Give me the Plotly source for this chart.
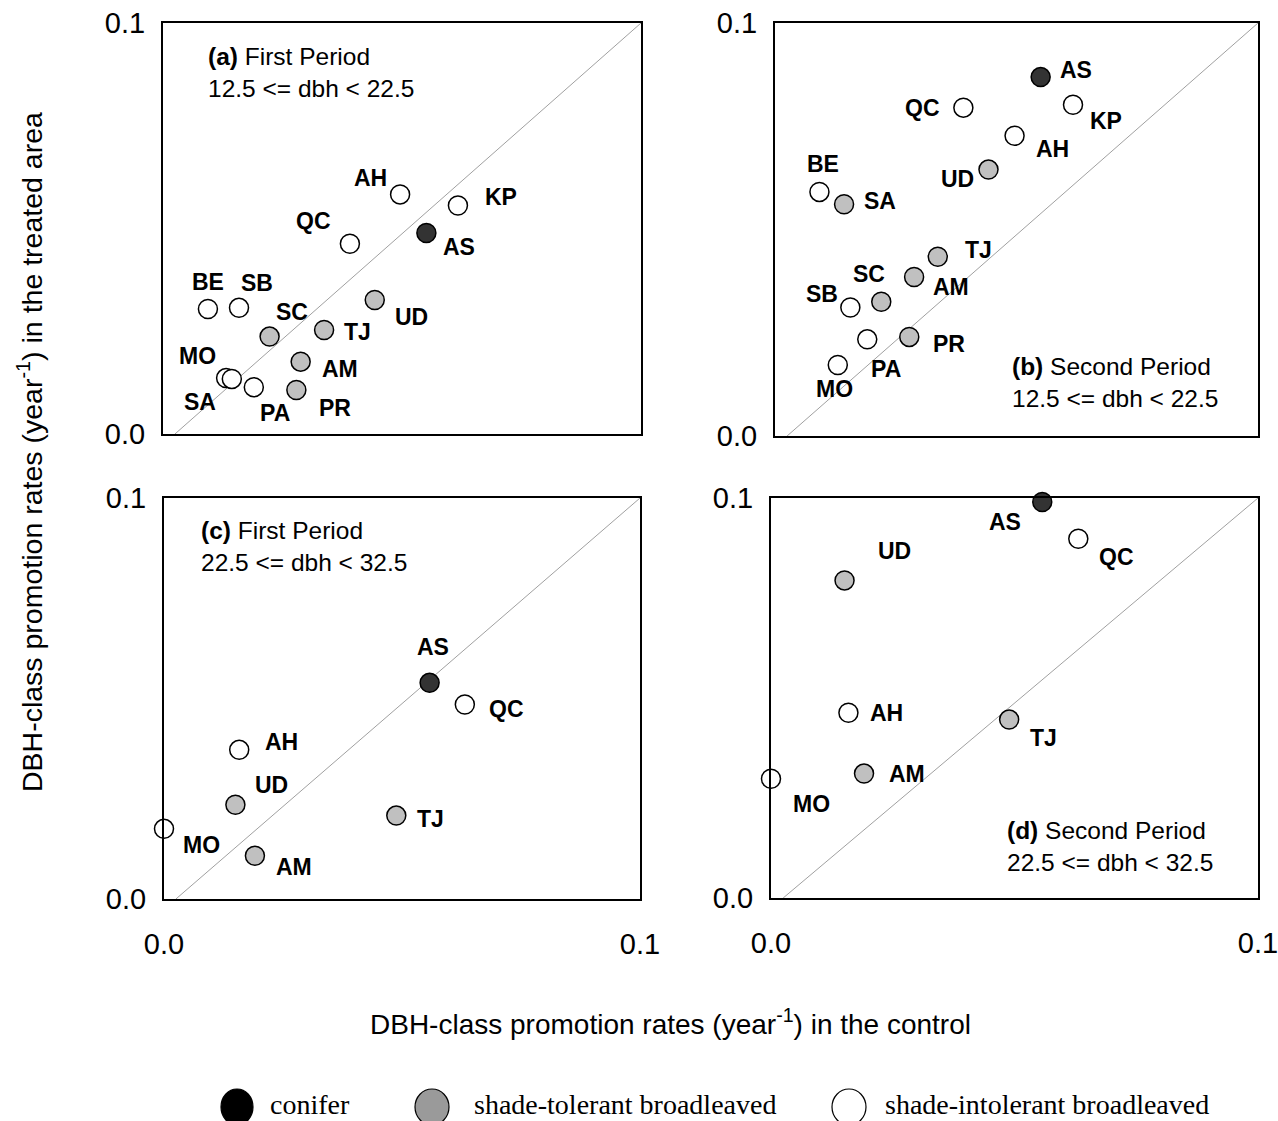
import plotly.graph_objects as go

# ---------------- data ----------------
# kind: C = conifer, T = shade-tolerant broadleaved, I = shade-intolerant broadleaved
species_a = ["AH", "KP", "AS", "QC", "BE", "SB", "SC", "TJ", "UD", "AM", "PR", "MO", "SA", "PA"]
x_a = [0.0496, 0.0617, 0.0551, 0.0391, 0.0094, 0.0159, 0.0223, 0.0337, 0.0443, 0.0288, 0.0279, 0.0132, 0.0144, 0.0190]
y_a = [0.0583, 0.0556, 0.0489, 0.0463, 0.0304, 0.0307, 0.0237, 0.0253, 0.0326, 0.0176, 0.0107, 0.0136, 0.0134, 0.0114]
kind_a = ["I", "I", "C", "I", "I", "I", "T", "T", "T", "T", "T", "I", "I", "I"]

species_b = ["AS", "QC", "KP", "AH", "UD", "BE", "SA", "TJ", "AM", "SC", "SB", "PA", "PR", "MO"]
x_b = [0.0550, 0.0390, 0.0617, 0.0496, 0.0442, 0.0092, 0.0143, 0.0337, 0.0288, 0.0220, 0.0156, 0.0191, 0.0278, 0.0130]
y_b = [0.0869, 0.0795, 0.0802, 0.0727, 0.0645, 0.0591, 0.0561, 0.0434, 0.0385, 0.0325, 0.0311, 0.0234, 0.0240, 0.0172]
kind_b = ["C", "I", "I", "I", "T", "I", "T", "T", "T", "T", "I", "I", "T", "I"]

species_c = ["AS", "QC", "AH", "UD", "TJ", "MO", "AM"]
x_c = [0.0558, 0.0632, 0.0158, 0.0150, 0.0488, 0.0, 0.0191]
y_c = [0.0539, 0.0485, 0.0372, 0.0235, 0.0208, 0.0175, 0.0108]
kind_c = ["C", "I", "I", "T", "T", "I", "T"]

species_d = ["AS", "QC", "UD", "AH", "TJ", "AM", "MO"]
x_d = [0.0557, 0.0631, 0.0151, 0.0159, 0.0489, 0.0191, 0.0]
y_d = [0.0990, 0.0898, 0.0794, 0.0463, 0.0446, 0.0311, 0.0298]
kind_d = ["C", "I", "T", "I", "T", "T", "I"]

diag_x = [0.0025, 0.1]
diag_y = [0.0, 0.1]

tick_vals = [0.0, 0.1]
tick_text = ["0.0", "0.1"]

panel_titles = [
    "<b>(a)</b> First Period<br>12.5 &lt;= dbh &lt; 22.5",
    "<b>(b)</b> Second Period<br>12.5 &lt;= dbh &lt; 22.5",
    "<b>(c)</b> First Period<br>22.5 &lt;= dbh &lt; 32.5",
    "<b>(d)</b> Second Period<br>22.5 &lt;= dbh &lt; 32.5",
]

legend_names = ["conifer", "shade-tolerant broadleaved", "shade-intolerant broadleaved"]

# ---------------- styles / layout ----------------
W, H = 1278, 1121
SANS = "Liberation Sans, Arial, sans-serif"
SERIF = "Liberation Serif, Times New Roman, serif"
fill = {"C": "#333333", "T": "#c0c0c0", "I": "#ffffff"}
legend_fill = ["#000000", "#9a9a9a", "#ffffff"]

# label offsets (px, dx right, dy down) per panel
off_a = [(-30, -16), (43, -8), (33, 14), (-36, -23), (0, -27), (18, -25), (22, -25), (33, 2),
         (37, 17), (39, 7), (39, 18), (-29, -22), (-32, 23), (21, 26)]
off_b = [(35, -7), (-41, 0), (33, 16), (38, 13), (-31, 9), (4, -28), (36, -3), (41, -7),
         (37, 10), (-12, -28), (-28, -14), (19, 30), (40, 7), (-3, 24)]
off_c = [(3, -36), (42, 4), (42, -8), (36, -20), (34, 3), (37, 16), (39, 11)]
off_d = [(-37, 20), (38, 18), (50, -29), (38, 0), (34, 18), (43, 0), (40, 25)]

# panel boxes in pixels: (left, right, top, bottom)
boxes = [(163, 641, 23, 434), (775, 1258, 23, 436), (164, 640, 498, 899), (771, 1258, 498, 898)]
# title positions (x domain frac of left edge, y domain frac of center)
title_pos = [(0.090, 0.879), (0.487, 0.129), (0.074, 0.879), (0.481, 0.129)]

panels = [
    (species_a, x_a, y_a, kind_a, off_a),
    (species_b, x_b, y_b, kind_b, off_b),
    (species_c, x_c, y_c, kind_c, off_c),
    (species_d, x_d, y_d, kind_d, off_d),
]

fig = go.Figure()
annotations = []
layout_axes = {}

for i, (sp, xs, ys, kinds, offs) in enumerate(panels):
    n = i + 1
    xa = "x" if n == 1 else f"x{n}"
    ya = "y" if n == 1 else f"y{n}"
    fig.add_trace(go.Scatter(x=diag_x, y=diag_y, mode="lines", xaxis=xa, yaxis=ya,
                             line=dict(color="#a0a0a0", width=1), showlegend=False,
                             hoverinfo="skip"))
    fig.add_trace(go.Scatter(x=xs, y=ys, mode="markers", xaxis=xa, yaxis=ya,
                             marker=dict(size=19, color=[fill[k] for k in kinds],
                                         line=dict(color="black", width=1.5)),
                             cliponaxis=False, showlegend=False, text=sp))
    for s, xv, yv, (dx, dy) in zip(sp, xs, ys, offs):
        annotations.append(dict(x=xv, y=yv, xref=xa, yref=ya, text=f"<b>{s}</b>",
                                showarrow=False, xshift=dx, yshift=-dy,
                                xanchor="center", yanchor="middle",
                                font=dict(family=SANS, size=23, color="black")))
    tx, ty = title_pos[i]
    annotations.append(dict(x=tx, y=ty, xref=f"{xa} domain", yref=f"{ya} domain",
                            text=panel_titles[i], showarrow=False, align="left",
                            xanchor="left", yanchor="middle",
                            font=dict(family=SANS, size=24.5, color="black")))
    l, r, t, b = boxes[i]
    xkey = "xaxis" if n == 1 else f"xaxis{n}"
    ykey = "yaxis" if n == 1 else f"yaxis{n}"
    layout_axes[xkey] = dict(domain=[l / W, r / W], range=[0, 0.1], anchor=ya,
                             showline=True, mirror=True, linecolor="black", linewidth=2,
                             showgrid=False, zeroline=False, tickvals=tick_vals,
                             ticktext=tick_text, showticklabels=(n >= 3),
                             ticks="outside", ticklen=18, tickcolor="rgba(0,0,0,0)",
                             ticklabeloverflow="allow",
                             tickfont=dict(family=SANS, size=29, color="black"))
    layout_axes[ykey] = dict(domain=[1 - b / H, 1 - t / H], range=[0, 0.1], anchor=xa,
                             showline=True, mirror=True, linecolor="black", linewidth=2,
                             showgrid=False, zeroline=False, tickvals=tick_vals,
                             ticktext=tick_text, ticks="outside", ticklen=10,
                             tickcolor="rgba(0,0,0,0)", ticklabeloverflow="allow",
                             tickfont=dict(family=SANS, size=29, color="black"))

# axis titles
annotations.append(dict(x=670 / W, y=1 - 1022 / H, xref="paper", yref="paper",
                        text="DBH-class promotion rates (year<sup>-1</sup>) in the control",
                        showarrow=False, xanchor="center", yanchor="middle",
                        font=dict(family=SANS, size=28, color="black")))
annotations.append(dict(x=30 / W, y=1 - 452 / H, xref="paper", yref="paper",
                        text="DBH-class promotion rates (year<sup>-1</sup>) in the treated area",
                        showarrow=False, xanchor="center", yanchor="middle", textangle=-90,
                        font=dict(family=SANS, size=28.5, color="black")))

# custom legend (ellipses + text)
leg_key_x = [(221, 253), (415, 449), (832, 866)]
leg_text_x = [268, 472, 883]
shapes = []
for (x0, x1), tx, name, col in zip(leg_key_x, leg_text_x, legend_names, legend_fill):
    shapes.append(dict(type="circle", xref="paper", yref="paper",
                       x0=x0 / W, x1=x1 / W, y0=1 - 1125 / H, y1=1 - 1089 / H,
                       fillcolor=col, line=dict(color="black", width=1.2)))
    annotations.append(dict(x=tx / W, y=1 - 1104 / H, xref="paper", yref="paper",
                            text=name, showarrow=False, xanchor="left", yanchor="middle",
                            font=dict(family=SERIF, size=28, color="black")))

fig.update_layout(width=W, height=H,
                  margin=dict(l=0, r=0, t=0, b=0, autoexpand=False),
                  paper_bgcolor="white", plot_bgcolor="white",
                  annotations=annotations, shapes=shapes, showlegend=False,
                  **layout_axes)

fig.write_html("out.html")
